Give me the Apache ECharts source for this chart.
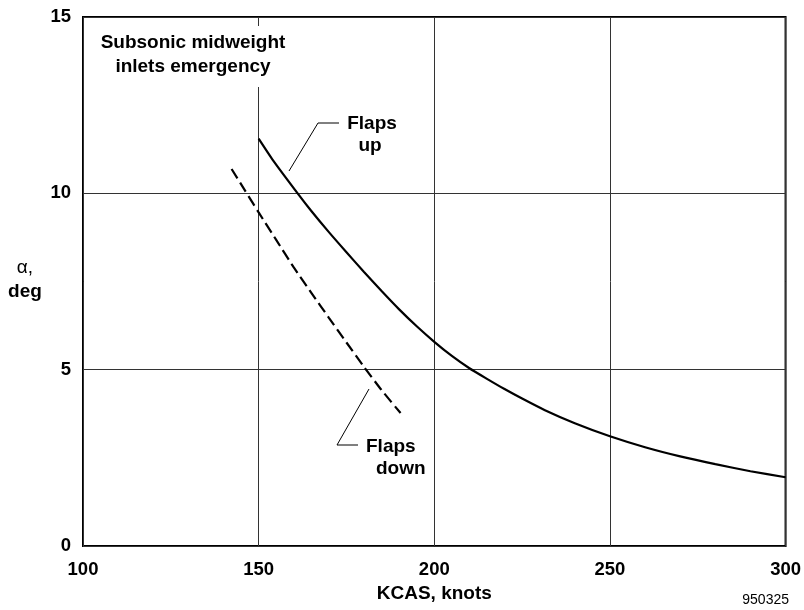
<!DOCTYPE html>
<html>
<head>
<meta charset="utf-8">
<script src="https://cdn.jsdelivr.net/npm/echarts@6/dist/echarts.min.js"></script>
<style>
html,body{margin:0;padding:0;background:#fff;}
#chart{width:804px;height:610px;}
</style>
</head>
<body>
<div id="chart"></div>
<script>
// Data (KCAS in knots, angle of attack in deg)
const flapsUpKcas   = [150, 154, 161.1, 165, 170, 175, 180, 185, 190, 195, 200, 205, 210, 215, 220, 225, 231.5, 240, 250, 260, 270, 280, 290, 300];
const flapsUpAlpha  = [11.55, 10.95, 10.0, 9.5, 8.9, 8.33, 7.77, 7.23, 6.71, 6.23, 5.79, 5.39, 5.04, 4.74, 4.45, 4.18, 3.85, 3.48, 3.11, 2.8, 2.54, 2.32, 2.12, 1.95];
const flapsDownKcas  = [142.3, 146, 150, 155, 160, 165, 170, 175, 180, 185, 190.4];
const flapsDownAlpha = [10.69, 10.1, 9.46, 8.68, 7.9, 7.18, 6.47, 5.77, 5.08, 4.42, 3.77];
const xTicks = [100, 150, 200, 250, 300];
const yTicks = [0, 5, 10, 15];

const FONT = '"Liberation Sans", Arial, sans-serif';
const chart = echarts.init(document.getElementById('chart'), null, {renderer: 'canvas'});

const pair = (xs, ys) => xs.map((x, i) => [x, ys[i]]);
const txt = (x, y, text, opts) => ({type: 'text', z: 101, x: x, y: y,
  style: Object.assign({text: text, fontFamily: FONT, fontWeight: 'bold', fontSize: 19, fill: '#000', align: 'center', verticalAlign: 'middle'}, opts || {})});

chart.setOption({
  animation: false,
  backgroundColor: '#fff',
  grid: {left: 83, right: 15, top: 17, bottom: 64, show: true, borderColor: '#000', borderWidth: 2, containLabel: false},
  xAxis: {
    type: 'value', min: xTicks[0], max: xTicks[xTicks.length - 1], interval: 50,
    name: 'KCAS, knots', nameLocation: 'middle', nameGap: 38,
    nameTextStyle: {fontFamily: FONT, fontWeight: 'bold', fontSize: 19, color: '#000'},
    axisLine: {show: false}, axisTick: {show: false},
    axisLabel: {fontFamily: FONT, fontWeight: 'bold', fontSize: 18.5, color: '#000', margin: 14},
    splitLine: {show: true, lineStyle: {color: '#333', width: 1}}
  },
  yAxis: {
    type: 'value', min: yTicks[0], max: yTicks[yTicks.length - 1], interval: 5,
    axisLine: {show: false}, axisTick: {show: false},
    axisLabel: {fontFamily: FONT, fontWeight: 'bold', fontSize: 18.5, color: '#000', margin: 12},
    splitLine: {show: true, lineStyle: {color: '#333', width: 1}}
  },
  series: [
    {name: 'Flaps up', type: 'line', data: pair(flapsUpKcas, flapsUpAlpha), smooth: 0.2, showSymbol: false,
     lineStyle: {color: '#000', width: 2.2}, z: 5},
    {name: 'Flaps down', type: 'line', data: pair(flapsDownKcas, flapsDownAlpha), smooth: 0.2, showSymbol: false,
     lineStyle: {color: '#000', width: 2.2, type: [11, 5]}, z: 5}
  ],
  graphic: [
    {type: 'rect', z: 100, shape: {x: 252, y: 26, width: 12, height: 61}, style: {fill: '#fff'}},
    txt(193, 43, 'Subsonic midweight'),
    txt(193, 67, 'inlets emergency'),
    {type: 'polyline', z: 101, shape: {points: [[289, 171], [318, 123], [339, 123]]}, style: {stroke: '#000', lineWidth: 1, fill: null}},
    txt(372, 124, 'Flaps'),
    txt(370, 146, 'up'),
    {type: 'polyline', z: 101, shape: {points: [[369, 389], [337, 445], [358, 445]]}, style: {stroke: '#000', lineWidth: 1, fill: null}},
    txt(366, 447, 'Flaps', {align: 'left'}),
    txt(376, 469, 'down', {align: 'left'}),
    txt(25, 268, 'α,', {fontWeight: 'normal', fontSize: 19}),
    txt(25, 292, 'deg'),
    txt(789, 600, '950325', {fontWeight: 'normal', fontSize: 14, align: 'right'})
  ]
});
</script>
</body>
</html>
